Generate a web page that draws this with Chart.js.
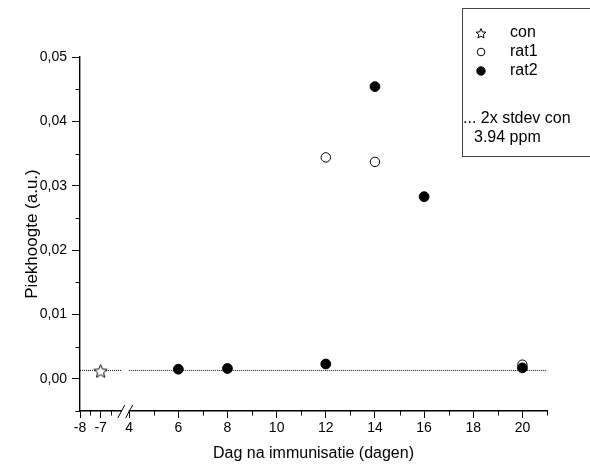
<!DOCTYPE html>
<html>
<head>
<meta charset="utf-8">
<script src="https://cdn.jsdelivr.net/npm/chart.js@4.4.1/dist/chart.umd.min.js"></script>
<style>
  html, body { margin: 0; padding: 0; background: #fff; }
  #wrap { width: 590px; height: 470px; }
</style>
</head>
<body>
<div id="wrap"><canvas id="chart"></canvas></div>
<script>
// data (x = days after immunisation)
var conX = [-7];
var conY = [0.00124];
var rat1X = [12, 14, 20];
var rat1Y = [0.0344, 0.0337, 0.0022];
var rat2X = [6, 8, 12, 14, 16, 20];
var rat2Y = [0.0015, 0.0016, 0.0023, 0.0454, 0.0283, 0.0017];
var stdevLevel = 0.0013;           // 2x stdev con
var stdevX = [-8, -6, null, 4, 21]; // null = axis break

var xTicks = [-8, -7, 4, 6, 8, 10, 12, 14, 16, 18, 20];
var xMinorTicks = [-7.5, -6.5, 5, 7, 9, 11, 13, 15, 17, 19, 21];
var yTicks = [0, 0.01, 0.02, 0.03, 0.04, 0.05];
var yMinorTicks = [-0.005, 0.005, 0.015, 0.025, 0.035, 0.045];

var legendLabels = ['con', 'rat1', 'rat2'];
var legendNote = ['... 2x stdev con', '3.94 ppm'];

// broken x axis: -8..-6 squeezed in front of 4..21
function toAxis(x) {
  return x < 0 ? 2 + (x + 8) * 0.84 : x;
}
function pts(xs, ys) {
  return xs.map(function (x, i) { return { x: toAxis(x), y: ys[i] }; });
}
var stdevPts = stdevX.map(function (x, i) {
  return x === null ? { x: 3.85, y: null } : { x: toAxis(x), y: stdevLevel };
});

function starImage(r) {
  var c = document.createElement('canvas');
  var s = Math.ceil(r * 2 + 3);
  c.width = s; c.height = s;
  var g = c.getContext('2d');
  g.translate(s / 2, s / 2 + 0.8);
  g.beginPath();
  for (var i = 0; i < 10; i++) {
    var rr = i % 2 ? r * 0.45 : r;
    var a = -Math.PI / 2 + i * Math.PI / 5;
    g.lineTo(Math.cos(a) * rr, Math.sin(a) * rr);
  }
  g.closePath();
  g.fillStyle = '#fff';
  g.fill();
  g.lineWidth = 1;
  g.strokeStyle = '#000';
  g.stroke();
  return c;
}
var bigStar = starImage(7);
var smallStar = starImage(5.2);

var FONT = 'Arial, "Liberation Sans", sans-serif';

var extras = {
  id: 'extras',
  afterDraw: function (chart) {
    var ctx = chart.ctx;
    var xs = chart.scales.x, ys = chart.scales.y;
    var area = chart.chartArea;
    ctx.save();
    ctx.strokeStyle = '#000';
    ctx.lineWidth = 1;
    // minor ticks
    xMinorTicks.forEach(function (v) {
      var px = Math.round(xs.getPixelForValue(toAxis(v))) + 0.5;
      ctx.beginPath(); ctx.moveTo(px, area.bottom); ctx.lineTo(px, area.bottom + 4.5); ctx.stroke();
    });
    yMinorTicks.forEach(function (v) {
      var py = Math.round(ys.getPixelForValue(v)) + 0.5;
      ctx.beginPath(); ctx.moveTo(area.left, py); ctx.lineTo(area.left - 4.5, py); ctx.stroke();
    });
    // axis break
    var b1 = xs.getPixelForValue(toAxis(-6));
    var b2 = xs.getPixelForValue(toAxis(4));
    var yb = area.bottom;
    ctx.fillStyle = '#fff';
    ctx.fillRect(b1 + 0.5, yb - 2, b2 - b1 - 1, 4);
    [b1, b2].forEach(function (c) {
      ctx.beginPath(); ctx.moveTo(c - 3.5, yb + 7); ctx.lineTo(c + 3.5, yb - 6); ctx.stroke();
    });
    // legend box
    ctx.strokeStyle = '#444';
    ctx.strokeRect(462.5, 8.5, 140, 148);
    var H = Chart.helpers;
    ctx.font = '16px ' + FONT;
    ctx.textBaseline = 'middle';
    var rows = [33, 52, 71];
    ctx.strokeStyle = '#000';
    H.drawPoint(ctx, { pointStyle: smallStar, radius: 5, rotation: 0, borderWidth: 1 }, 481, rows[0]);
    ctx.fillStyle = '#fff';
    H.drawPoint(ctx, { pointStyle: 'circle', radius: 3.8, rotation: 0, borderWidth: 1 }, 481, rows[1]);
    ctx.fillStyle = '#000';
    H.drawPoint(ctx, { pointStyle: 'circle', radius: 4.2, rotation: 0, borderWidth: 1 }, 481, rows[2]);
    ctx.fillStyle = '#000';
    legendLabels.forEach(function (t, i) { ctx.fillText(t, 510, rows[i]); });
    ctx.fillText(legendNote[0], 463, 119);
    ctx.fillText(legendNote[1], 474, 138);
    ctx.restore();
  }
};

new Chart(document.getElementById('chart'), {
  type: 'scatter',
  data: {
    datasets: [
      { label: '2x stdev con', data: stdevPts, showLine: true, spanGaps: false, borderColor: '#111',
        borderWidth: 1, borderDash: [1, 1], pointRadius: 0, fill: false, order: 3 },
      { label: 'con', data: pts(conX, conY), pointStyle: bigStar, pointRadius: 7, order: 0 },
      { label: 'rat1', data: pts(rat1X, rat1Y), pointStyle: 'circle', pointRadius: 4.7, pointBorderWidth: 1,
        pointBorderColor: '#000', pointBackgroundColor: '#fff', order: 2 },
      { label: 'rat2', data: pts(rat2X, rat2Y), pointStyle: 'circle', pointRadius: 4.9, pointBorderWidth: 1,
        pointBorderColor: '#000', pointBackgroundColor: '#000', order: 1 }
    ]
  },
  options: {
    responsive: true,
    maintainAspectRatio: false,
    animation: false,
    events: [],
    layout: { padding: { top: 57, right: 43, left: 0, bottom: 0 } },
    plugins: { legend: { display: false }, tooltip: { enabled: false } },
    scales: {
      x: {
        type: 'linear',
        min: 2, max: 21,
        afterFit: function (s) { s.height = 59; },
        afterBuildTicks: function (s) { s.ticks = xTicks.map(function (v) { return { value: toAxis(v) }; }); },
        ticks: {
          callback: function (v, i) { return String(xTicks[i]); },
          font: { family: FONT, size: 14 }, color: '#000', padding: 2, maxRotation: 0, autoSkip: false
        },
        grid: { drawOnChartArea: false, tickLength: 7, color: '#000' },
        border: { color: '#000', width: 1.4 },
        title: { display: true, text: 'Dag na immunisatie (dagen)', color: '#000',
          font: { family: FONT, size: 16 }, padding: { top: 0, bottom: 7 } }
      },
      y: {
        min: -0.005, max: 0.05,
        afterFit: function (s) { s.width = 80; },
        afterBuildTicks: function (s) { s.ticks = yTicks.map(function (v) { return { value: v }; }); },
        ticks: {
          callback: function (v) { return v.toFixed(2).replace('.', ','); },
          font: { family: FONT, size: 14 }, color: '#000', padding: 5
        },
        grid: { drawOnChartArea: false, tickLength: 8, color: '#000' },
        border: { color: '#000', width: 1.4 },
        title: { display: true, text: 'Piekhoogte (a.u.)', color: '#000',
          font: { family: FONT, size: 17 }, padding: { top: 22, bottom: 0 } }
      }
    }
  },
  plugins: [extras]
});
</script>
</body>
</html>
